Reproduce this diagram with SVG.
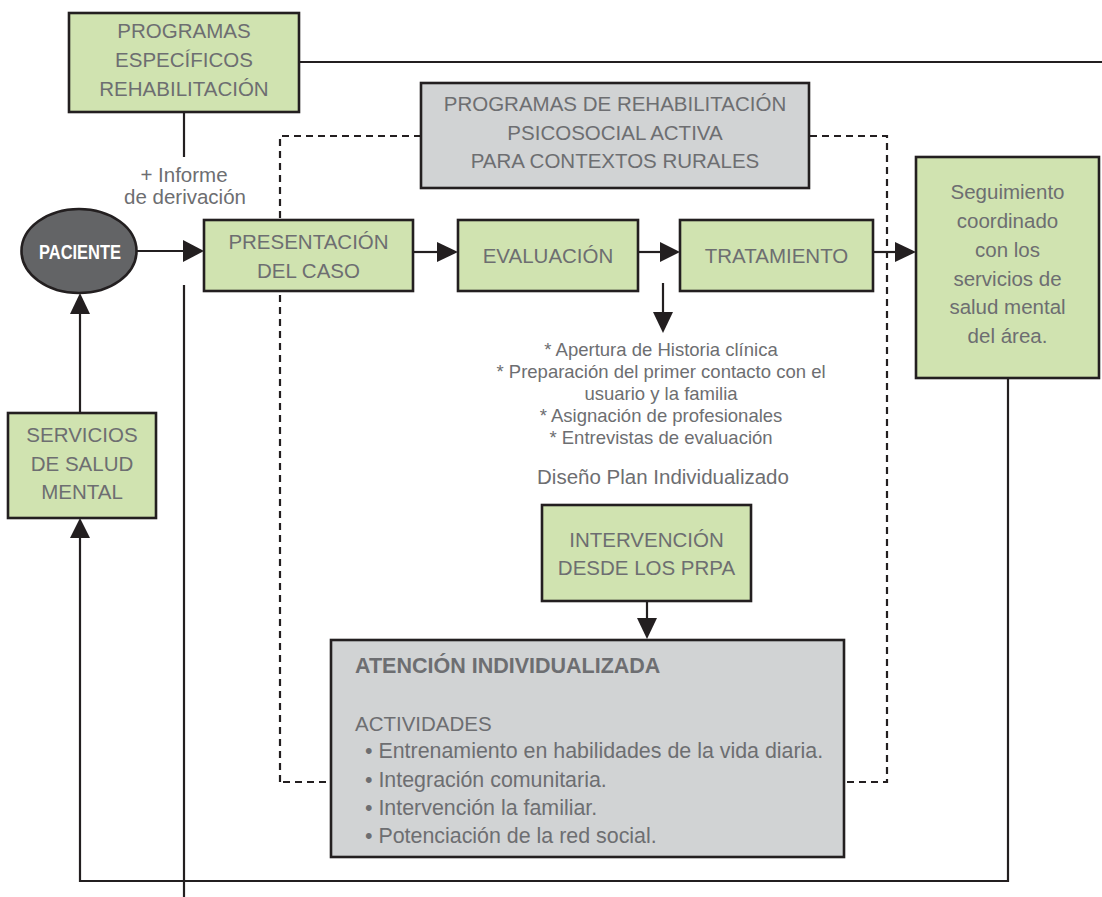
<svg xmlns="http://www.w3.org/2000/svg" width="1102" height="897" viewBox="0 0 1102 897">
<defs>
<style>
.box{stroke:#231f20;stroke-width:2.6}
.green{fill:#d0e3b0}
.gray{fill:#d1d3d4}
.t{font-family:"Liberation Sans",Arial,sans-serif;fill:#6d6e71;font-size:20.5px;text-anchor:middle}
.small{font-size:18.5px}
.ln{fill:none;stroke:#231f20;stroke-width:2.2}
.dash{fill:none;stroke:#231f20;stroke-width:2.2;stroke-dasharray:7 5}
.head{fill:#231f20}
.lt{font-family:"Liberation Sans",Arial,sans-serif;fill:#6d6e71;font-size:20.5px}
.bul{font-size:21.4px}
.bold{font-size:21.5px;font-weight:bold}
</style>
</defs>
<rect width="1102" height="897" fill="#ffffff"/>

<g id="frame-dashed">
<path class="dash" d="M280,782 L280,136 L887,136 L887,782 Z"/>
</g>

<g id="connectors">
<line class="ln" x1="299" y1="62" x2="1102" y2="62"/>
<line class="ln" x1="184" y1="112" x2="184" y2="157"/>
<line class="ln" x1="184" y1="285" x2="184" y2="897"/>
<line class="ln" x1="137" y1="251" x2="186" y2="251"/>
<polygon class="head" points="183,240 204,251 183,262"/>
<line class="ln" x1="413" y1="252" x2="440" y2="252"/>
<polygon class="head" points="437,242 458,252 437,262"/>
<line class="ln" x1="638" y1="252" x2="663" y2="252"/>
<polygon class="head" points="660,242 680,252 660,262"/>
<line class="ln" x1="663" y1="283" x2="663" y2="315"/>
<polygon class="head" points="653,312 673,312 663,333"/>
<line class="ln" x1="873" y1="252" x2="898" y2="252"/>
<polygon class="head" points="895,242 916,252 895,262"/>
<line class="ln" x1="647" y1="601" x2="647" y2="620"/>
<polygon class="head" points="637,618 657,618 647,639"/>
<path class="ln" d="M1008,378 L1008,881 L80,881 L80,536"/>
<polygon class="head" points="70,538 90,538 80,518"/>
<line class="ln" x1="80" y1="413" x2="80" y2="311"/>
<polygon class="head" points="70,314 90,314 80,293"/>
</g>

<g id="programas-especificos">
<rect class="box green" x="69" y="13" width="230" height="99"/>
<text class="t" x="184" y="38">PROGRAMAS</text>
<text class="t" x="184" y="67">ESPECÍFICOS</text>
<text class="t" x="184" y="96">REHABILITACIÓN</text>
</g>

<g id="informe-label">
<text class="t" x="184" y="182">+ Informe</text>
<text class="t" x="185" y="204">de derivación</text>
</g>

<g id="programas-rehabilitacion">
<rect class="box gray" x="421" y="83" width="388" height="105"/>
<text class="t" x="615" y="111">PROGRAMAS DE REHABILITACIÓN</text>
<text class="t" x="615" y="140">PSICOSOCIAL ACTIVA</text>
<text class="t" x="615" y="168">PARA CONTEXTOS RURALES</text>
</g>

<g id="paciente">
<ellipse cx="79" cy="251" rx="57.5" ry="42" fill="#636466" stroke="#231f20" stroke-width="2.6"/>
<text x="80" y="259" font-family="'Liberation Sans Narrow','Liberation Sans',Arial,sans-serif" font-weight="bold" font-size="20" fill="#ffffff" text-anchor="middle" textLength="82" lengthAdjust="spacingAndGlyphs">PACIENTE</text>
</g>

<g id="presentacion">
<rect class="box green" x="204" y="220" width="209" height="71"/>
<text class="t" x="308.5" y="249">PRESENTACIÓN</text>
<text class="t" x="308.5" y="278">DEL CASO</text>
</g>

<g id="evaluacion">
<rect class="box green" x="458" y="220" width="180" height="71"/>
<text class="t" x="548" y="263">EVALUACIÓN</text>
</g>

<g id="tratamiento">
<rect class="box green" x="680" y="220" width="193" height="71"/>
<text class="t" x="776.5" y="263">TRATAMIENTO</text>
</g>

<g id="seguimiento">
<rect class="box green" x="916" y="157" width="183" height="221"/>
<text class="t" x="1007.5" y="199">Seguimiento</text>
<text class="t" x="1007.5" y="228">coordinado</text>
<text class="t" x="1007.5" y="257">con los</text>
<text class="t" x="1007.5" y="286">servicios de</text>
<text class="t" x="1007.5" y="314">salud mental</text>
<text class="t" x="1007.5" y="343">del área.</text>
</g>

<g id="servicios-salud-mental">
<rect class="box green" x="8" y="413" width="148" height="105"/>
<text class="t" x="82" y="442">SERVICIOS</text>
<text class="t" x="82" y="471">DE SALUD</text>
<text class="t" x="82" y="499">MENTAL</text>
</g>

<g id="evaluacion-detalle">
<text class="t small" x="661" y="356">* Apertura de Historia clínica</text>
<text class="t small" x="661" y="378">* Preparación del primer contacto con el</text>
<text class="t small" x="661" y="400">usuario y la familia</text>
<text class="t small" x="661" y="422">* Asignación de profesionales</text>
<text class="t small" x="661" y="444">* Entrevistas de evaluación</text>
<text class="t" x="663" y="484">Diseño Plan Individualizado</text>
</g>

<g id="intervencion">
<rect class="box green" x="542" y="505" width="209" height="96"/>
<text class="t" x="646.5" y="547">INTERVENCIÓN</text>
<text class="t" x="646.5" y="575">DESDE LOS PRPA</text>
</g>

<g id="atencion-individualizada">
<rect class="box gray" x="331" y="640" width="513" height="217"/>
<text class="lt bold" x="355" y="673">ATENCIÓN INDIVIDUALIZADA</text>
<text class="lt" x="355" y="731">ACTIVIDADES</text>
<text class="lt bul" x="365" y="758">• Entrenamiento en habilidades de la vida diaria.</text>
<text class="lt bul" x="365" y="787">• Integración comunitaria.</text>
<text class="lt bul" x="365" y="815">• Intervención la familiar.</text>
<text class="lt bul" x="365" y="843">• Potenciación de la red social.</text>
</g>
</svg>
